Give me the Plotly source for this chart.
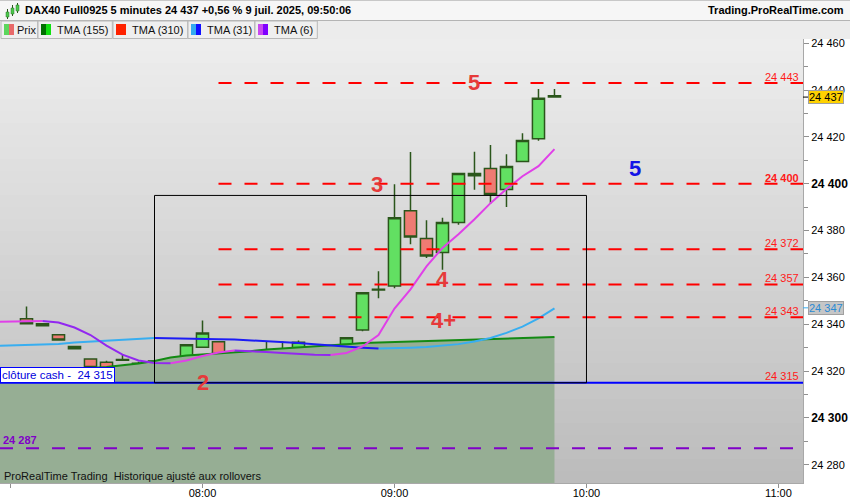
import plotly.graph_objects as go

DAY = "2025-07-09"

# ---------------- data ----------------
candle_times = ["07:05", "07:10", "07:15", "07:20", "07:25", "07:30", "07:35", "07:40", "07:45", "07:50", "07:55",
                "08:00", "08:05", "08:10", "08:15", "08:20", "08:25", "08:30", "08:35", "08:40", "08:45", "08:50", "08:55",
                "09:00", "09:05", "09:10", "09:15", "09:20", "09:25", "09:30", "09:35", "09:40", "09:45", "09:50"]
opens = [24342.3, 24340.2, 24335.5, 24330.5, 24325.2, 24323.8, 24324.6, 24321.4, 24322.2, 24324.2, 24325.2,
         24330.2, 24332.5, 24323.5, 24318.4, 24328.0, 24325.2, 24329.5, 24328.0, 24323.5, 24331.3, 24337.5, 24354.6,
         24356.3, 24388.5, 24376.6, 24370.6, 24383.4, 24403.4, 24406.5, 24397.5, 24409.5, 24419.2, 24437.6]
closes = [24340.2, 24339.3, 24333.3, 24329.5, 24321.5, 24320.5, 24324.9, 24323.3, 24324.3, 24323.5, 24331.2,
          24336.3, 24324.2, 24321.2, 24327.3, 24327.3, 24329.5, 24332.3, 24324.2, 24327.3, 24334.2, 24353.4, 24354.9,
          24385.5, 24377.2, 24369.1, 24383.4, 24404.4, 24404.4, 24395.4, 24407.4, 24418.5, 24436.5, 24437.0]
highs = [24347.6, 24340.4, 24335.6, 24330.6, 24325.3, 24324.4, 24326.9, 24324.0, 24324.4, 24324.3, 24331.3,
         24341.6, 24332.6, 24323.6, 24327.4, 24332.7, 24332.7, 24333.0, 24330.5, 24327.4, 24334.3, 24353.5, 24362.6,
         24399.8, 24413.5, 24384.4, 24385.5, 24404.5, 24413.6, 24416.5, 24412.6, 24421.6, 24440.4, 24440.4]
lows = [24340.0, 24339.1, 24333.0, 24329.4, 24321.4, 24320.4, 24324.4, 24321.4, 24322.1, 24322.1, 24325.1,
        24330.1, 24315.2, 24318.1, 24315.2, 24321.2, 24321.2, 24321.6, 24318.1, 24315.2, 24325.2, 24337.0, 24351.1,
        24355.4, 24374.2, 24368.3, 24363.3, 24382.5, 24397.4, 24391.5, 24390.1, 24409.4, 24418.3, 24437.0]

tma_times = ["06:55", "07:00"] + candle_times
tma6 = [24341.0, 24341.1, 24341.2, 24341.4, 24340.7, 24338.6, 24335.4, 24330.9, 24327.0, 24324.5, 24323.4, 24323.3,
        24324.5, 24326.4, 24327.9, 24328.8, 24328.6, 24328.1, 24327.7, 24327.3, 24327.0, 24326.9, 24327.7, 24330.5,
        24335.4, 24346.7, 24354.9, 24364.7, 24372.6, 24378.4, 24384.8, 24391.7, 24397.7, 24403.2, 24407.5, 24414.8]
tma31 = [24330.7, 24330.9, 24331.1, 24331.3, 24331.6, 24332.2, 24332.6, 24333.2, 24333.6, 24333.9, 24334.1, 24333.9,
         24333.8, 24333.7, 24333.6, 24333.5, 24333.2, 24332.8, 24332.5, 24332.0, 24331.5, 24330.9, 24330.4, 24330.0,
         24329.6, 24329.7, 24330.0, 24330.3, 24330.8, 24331.5, 24332.6, 24334.1, 24336.3, 24339.0, 24342.5, 24346.8]
tma155 = [24319.3, 24319.8, 24320.2, 24320.4, 24320.6, 24320.8, 24321.3, 24321.7, 24322.3, 24323.2, 24324.3, 24325.8,
          24326.6, 24327.0, 24327.5, 24328.1, 24328.5, 24329.2, 24329.6, 24330.2, 24330.7, 24331.1, 24331.5, 24332.0,
          24332.2, 24332.3, 24332.4, 24332.6, 24332.8, 24333.0, 24333.3, 24333.5, 24333.9, 24334.1, 24334.3, 24334.5]

red_levels = [24443, 24400, 24372, 24357, 24343]
red_levels_start = "08:05"
bold_level = 24400
cash_close = 24315
purple_level = 24287
box_times = ["07:45", "10:00"]
box_prices = [24315, 24395]

wave_labels = ["2", "3", "4", "4+", "5", "5"]
wave_times = ["08:00:00", "08:54:40", "09:15:00", "09:15:10", "09:24:50", "10:15:10"]
wave_prices = [24315.1, 24399.8, 24359.3, 24341.6, 24443.4, 24406.6]
wave_colors = ["#e63a3a", "#e63a3a", "#e63a3a", "#e63a3a", "#e63a3a", "#1414e6"]

y_ticks = [24280, 24300, 24320, 24340, 24360, 24380, 24400, 24420, 24440, 24460]
x_ticks = ["07:00", "08:00", "09:00", "10:00", "11:00"]
last_price = 24437
last_tma31 = 24347

X_RANGE = ["06:56:43", "11:07:40"]
Y_RANGE = [24272.2, 24461.8]

FONT = "Liberation Sans, Arial, sans-serif"


def ts(t):
    return f"{DAY} {t}"


def fmt(v):
    s = f"{int(round(v)):,}"
    return s.replace(",", " ")


def split_by_slope(xs, ys):
    up_x, up_y, dn_x, dn_y = [], [], [], []
    prev = None
    for i in range(len(ys) - 1):
        rising = ys[i + 1] >= ys[i]
        tx, ty = (up_x, up_y) if rising else (dn_x, dn_y)
        if prev is None or prev != rising:
            if tx:
                tx.append(None)
                ty.append(None)
            tx.append(xs[i])
            ty.append(ys[i])
        tx.append(xs[i + 1])
        ty.append(ys[i + 1])
        prev = rising
    return up_x, up_y, dn_x, dn_y


# ------------- geometry helpers (decoration only) -------------
PW, PT, PB = 803.0, 39.0, 483.0
PH = PB - PT


def pxx(x):
    return x / PW


def pyy(y):
    return (PB - y) / PH


cx = [ts(t) for t in candle_times]
tx = [ts(t) for t in tma_times]

fig = go.Figure()

# green area under TMA(155)
fig.add_trace(go.Scatter(x=tx, y=tma155, mode="lines", line=dict(width=0, color="#96ae94"),
                         fill="tozeroy", fillcolor="#96ae94", hoverinfo="skip"))

fig.add_trace(go.Candlestick(
    x=cx, open=opens, high=highs, low=lows, close=closes,
    increasing=dict(line=dict(color="#2b561b", width=1.5), fillcolor="#62e062"),
    decreasing=dict(line=dict(color="#2b561b", width=1.5), fillcolor="#ef7b73"),
    whiskerwidth=0, hoverinfo="skip"))

fig.add_trace(go.Scatter(x=tx, y=tma155, mode="lines", line=dict(width=2, color="#138a13"), hoverinfo="skip"))

ux, uy, dx, dy = split_by_slope(tx, tma31)
fig.add_trace(go.Scatter(x=ux, y=uy, mode="lines", line=dict(width=2, color="#38aef0"), hoverinfo="skip"))
fig.add_trace(go.Scatter(x=dx, y=dy, mode="lines", line=dict(width=2, color="#1c1cf5"), hoverinfo="skip"))

ux, uy, dx, dy = split_by_slope(tx, tma6)
fig.add_trace(go.Scatter(x=ux, y=uy, mode="lines", line=dict(width=2, color="#e040e8"), hoverinfo="skip"))
fig.add_trace(go.Scatter(x=dx, y=dy, mode="lines", line=dict(width=2, color="#9228f0"), hoverinfo="skip"))

shapes = []
annotations = []

# background gradient
N = 37
for k in range(N):
    g = int(round(237 - (237 - 188) * k / (N - 1)))
    shapes.append(dict(type="rect", xref="paper", yref="paper", x0=0, x1=1,
                       y0=1 - (k + 1) / N, y1=1 - k / N, layer="below", line=dict(width=0),
                       fillcolor=f"rgb({g},{g},{g})"))

# levels
for lv in red_levels:
    shapes.append(dict(type="line", xref="x", yref="y", x0=ts(red_levels_start), x1=ts(X_RANGE[1]),
                       y0=lv, y1=lv, line=dict(color="#ff0000", width=2, dash="13px,13px")))
    txt = fmt(lv)
    if lv == bold_level:
        txt = f"<b>{txt}</b>"
    annotations.append(dict(xref="paper", yref="y", x=800 / PW, y=lv, xanchor="right", yanchor="bottom",
                            text=txt, showarrow=False, font=dict(family=FONT, size=11, color="#ff1a1a"),
                            borderpad=0, yshift=-1))

shapes.append(dict(type="line", xref="paper", yref="y", x0=0, x1=1, y0=cash_close, y1=cash_close,
                   line=dict(color="#0000ff", width=2)))
annotations.append(dict(xref="paper", yref="y", x=800 / PW, y=cash_close, xanchor="right", yanchor="bottom",
                        text=fmt(cash_close), showarrow=False, font=dict(family=FONT, size=11, color="#ff1a1a"),
                        borderpad=0, yshift=0))
annotations.append(dict(xref="paper", yref="y", x=0, y=cash_close, xanchor="left", yanchor="bottom",
                        text="clôture cash -\u00a0\u00a0" + fmt(cash_close), showarrow=False,
                        font=dict(family=FONT, size=11.5, color="#0000dd"), bgcolor="#ffffff",
                        bordercolor="#0000ff", borderwidth=1, borderpad=1, yshift=0))

shapes.append(dict(type="line", xref="paper", yref="y", x0=0, x1=1, y0=purple_level, y1=purple_level,
                   line=dict(color="#8000c8", width=2, dash="13px,13px")))
annotations.append(dict(xref="paper", yref="y", x=2 / PW, y=purple_level, xanchor="left", yanchor="bottom",
                        text=f"<b>{fmt(purple_level)}</b>", showarrow=False,
                        font=dict(family=FONT, size=11, color="#8000c8"), borderpad=0, yshift=1))

# box
shapes.append(dict(type="rect", xref="x", yref="y", x0=ts(box_times[0]), x1=ts(box_times[1]),
                   y0=box_prices[0], y1=box_prices[1], line=dict(color="#000000", width=1)))

# wave labels
for lab, t, p, c in zip(wave_labels, wave_times, wave_prices, wave_colors):
    annotations.append(dict(xref="x", yref="y", x=ts(t), y=p, text=f"<b>{lab}</b>", showarrow=False,
                            font=dict(family=FONT, size=22, color=c), xanchor="center", yanchor="middle"))

# price boxes on right axis
annotations.append(dict(xref="paper", yref="y", x=808 / PW, y=last_price, xanchor="left", yanchor="middle",
                        text=fmt(last_price), showarrow=False, font=dict(family=FONT, size=11, color="#000000"),
                        bgcolor="#ffd200", bordercolor="#a0a0a0", borderwidth=1, borderpad=0))
annotations.append(dict(xref="paper", yref="y", x=808 / PW, y=last_tma31, xanchor="left", yanchor="middle",
                        text=fmt(last_tma31), showarrow=False, font=dict(family=FONT, size=11, color="#2a8ad4"),
                        bgcolor="#c6c6c6", bordercolor="#a0a0a0", borderwidth=1, borderpad=0))
shapes.append(dict(type="line", xref="paper", yref="y", x0=1, x1=808 / PW, y0=last_price, y1=last_price,
                   line=dict(color="#000000", width=1)))
shapes.append(dict(type="line", xref="paper", yref="y", x0=1, x1=808 / PW, y0=last_tma31, y1=last_tma31,
                   line=dict(color="#38aef0", width=1)))

# bottom-left caption
annotations.append(dict(xref="paper", yref="paper", x=2 / PW, y=pyy(476), xanchor="left", yanchor="middle",
                        text="ProRealTime Trading\u00a0\u00a0Historique ajusté aux rollovers", showarrow=False,
                        font=dict(family=FONT, size=11, color="#111111")))

# ---------------- header ----------------
FULLW = 850 / PW
shapes.append(dict(type="rect", xref="paper", yref="paper", x0=0, x1=FULLW, y0=pyy(20.5), y1=pyy(0),
                   fillcolor="#f6f6f6", line=dict(width=0)))
shapes.append(dict(type="rect", xref="paper", yref="paper", x0=0, x1=FULLW, y0=pyy(39), y1=pyy(20.5),
                   fillcolor="#ececec", line=dict(width=0)))
shapes.append(dict(type="line", xref="paper", yref="paper", x0=0, x1=FULLW, y0=pyy(20.5), y1=pyy(20.5),
                   line=dict(color="#b4b4b4", width=1)))
shapes.append(dict(type="line", xref="paper", yref="paper", x0=0, x1=FULLW, y0=pyy(0.5), y1=pyy(0.5),
                   line=dict(color="#c8c8c8", width=1)))
# header icon (small candles)
for (x0, yb, yt, wt, wb) in [(6, 17, 12, 9, 19), (11, 14, 8, 5, 16), (16, 11, 5, 3, 13)]:
    shapes.append(dict(type="line", xref="paper", yref="paper", x0=pxx(x0 + 1.5), x1=pxx(x0 + 1.5),
                       y0=pyy(wb), y1=pyy(wt), line=dict(color="#2b561b", width=1)))
    shapes.append(dict(type="rect", xref="paper", yref="paper", x0=pxx(x0), x1=pxx(x0 + 3),
                       y0=pyy(yb), y1=pyy(yt), fillcolor="#4cc84c", line=dict(color="#2b7a2b", width=0.5)))

annotations.append(dict(xref="paper", yref="paper", x=pxx(23), y=pyy(10.5), xanchor="left", yanchor="middle",
                        text="<b>DAX40 Full0925 5 minutes 24 437 +0,56 % 9 juil. 2025, 09:50:06</b>",
                        showarrow=False, font=dict(family=FONT, size=11, color="#000000")))
annotations.append(dict(xref="paper", yref="paper", x=pxx(846), y=pyy(10.5), xanchor="right", yanchor="middle",
                        text="<b>Trading.ProRealTime.com</b>",
                        showarrow=False, font=dict(family=FONT, size=11, color="#000000")))

# legend row
legend_items = [("Prix", ["#5cd65c", "#e86a6a"], 1, 37.7, 15),
                ("TMA (155)", ["#006e00", "#10e010"], 38, 112.3, 55),
                ("TMA (310)", ["#ff2200", "#ff2200"], 113, 187.7, 130),
                ("TMA (31)", ["#34aaf0", "#1010ff"], 188, 254.7, 205),
                ("TMA (6)", ["#c848f0", "#8000ff"], 255, 317.3, 272)]
for name, cols, bx0, bx1, txs in legend_items:
    shapes.append(dict(type="rect", xref="paper", yref="paper", x0=pxx(bx0), x1=pxx(bx1),
                       y0=pyy(38.5), y1=pyy(21), fillcolor="#efefef", line=dict(color="#b8b8b8", width=1)))
    ix = bx0 + 3
    shapes.append(dict(type="rect", xref="paper", yref="paper", x0=pxx(ix), x1=pxx(ix + 5),
                       y0=pyy(35), y1=pyy(24), fillcolor=cols[0], line=dict(width=0)))
    shapes.append(dict(type="rect", xref="paper", yref="paper", x0=pxx(ix + 5), x1=pxx(ix + 10),
                       y0=pyy(35), y1=pyy(24), fillcolor=cols[1], line=dict(width=0)))
    annotations.append(dict(xref="paper", yref="paper", x=pxx(txs), y=pyy(30), xanchor="left", yanchor="middle",
                            text=name, showarrow=False, font=dict(family=FONT, size=11, color="#111111")))

ticktext = []
for v in y_ticks:
    s = fmt(v)
    if v % 100 == 0:
        s = f"<b><span style='font-size:12px'>{s}</span></b>"
    ticktext.append(s)

fig.update_layout(
    width=850, height=500,
    margin=dict(l=0, r=47, t=39, b=17),
    paper_bgcolor="#ffffff", plot_bgcolor="#d6d6d6",
    showlegend=False, hovermode=False,
    boxgap=0.13, boxgroupgap=0.13,
    font=dict(family=FONT, size=11, color="#000000"),
    xaxis=dict(type="date", range=[ts(X_RANGE[0]), ts(X_RANGE[1])], rangeslider=dict(visible=False),
               automargin=False, ticklabelstandoff=-4,
               showgrid=False, zeroline=False, tickmode="array", tickvals=[ts(t) for t in x_ticks],
               ticktext=["" if t == "07:00" else t for t in x_ticks],
               ticks="outside", ticklen=4, tickcolor="#909090", showline=True, linecolor="#a8a8a8",
               tickfont=dict(family=FONT, size=11, color="#000000"), fixedrange=True),
    yaxis=dict(side="right", range=Y_RANGE, showgrid=False, zeroline=False, tickmode="array",
               automargin=False,
               tickvals=y_ticks, ticktext=ticktext, ticks="outside", ticklen=5, tickcolor="#909090",
               showline=True, linecolor="#a8a8a8", tickfont=dict(family=FONT, size=11, color="#000000"),
               minor=dict(dtick=10, tick0=24270, ticks="outside", ticklen=4, tickcolor="#909090"),
               fixedrange=True),
    shapes=shapes, annotations=annotations,
)

fig.write_html("out.html", config={"displayModeBar": False},
               post_script="document.body.style.margin='0';document.body.style.overflow='hidden';")
